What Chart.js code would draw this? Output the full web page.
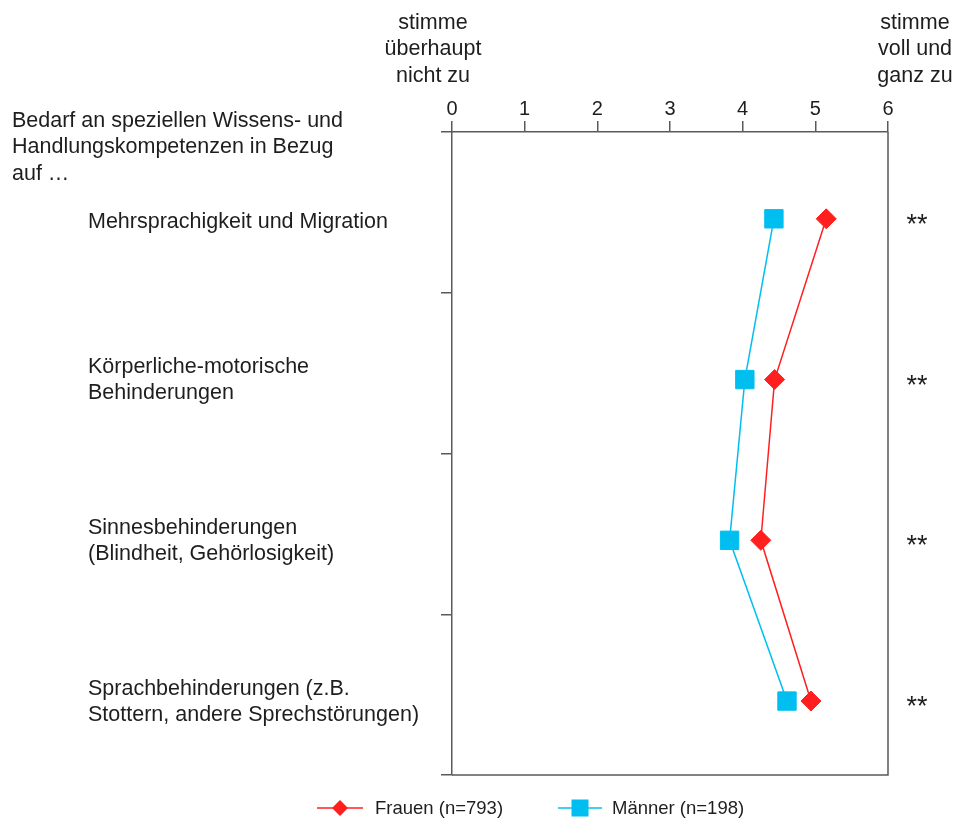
<!DOCTYPE html>
<html>
<head>
<meta charset="utf-8">
<script src="https://cdn.jsdelivr.net/npm/chart.js@4.4.1/dist/chart.umd.min.js"></script>
<style>
  html, body { margin: 0; padding: 0; background: #ffffff; }
  #wrap { position: relative; width: 956px; height: 820px; }
</style>
</head>
<body>
<div id="wrap"><canvas id="c"></canvas></div>
<script>
// ---- data ----
const categories = [
  ['Mehrsprachigkeit und Migration'],
  ['Körperliche-motorische', 'Behinderungen'],
  ['Sinnesbehinderungen', '(Blindheit, Gehörlosigkeit)'],
  ['Sprachbehinderungen (z.B.', 'Stottern, andere Sprechstörungen)']
];
const frauen = [5.15, 4.44, 4.25, 4.94];
const maenner = [4.43, 4.03, 3.82, 4.61];
const significance = ['**', '**', '**', '**'];
const xTickValues = [0, 1, 2, 3, 4, 5, 6];
const headerLines = ['Bedarf an speziellen Wissens- und', 'Handlungskompetenzen in Bezug', 'auf …'];
const leftAnchor = ['stimme', 'überhaupt', 'nicht zu'];
const rightAnchor = ['stimme', 'voll und', 'ganz zu'];
const seriesNames = ['Frauen (n=793)', 'Männer (n=198)'];

// ---- style ----
const FONT = '"Liberation Sans", Arial, sans-serif';
const RED = '#ff1f1f';
const CYAN = '#00bff0';
const AXIS = '#5a5a5a';
const TEXT = '#1e1e1e';
const CAT_OFFSET = 0.54; // position of a category point inside its band

function toPoints(vals) {
  return vals.map((v, i) => ({ x: v, y: i + CAT_OFFSET }));
}

const textPlugin = {
  id: 'texts',
  afterDraw(chart) {
    const ctx = chart.ctx;
    const y = chart.scales.y;
    const ca = chart.chartArea;
    ctx.save();
    ctx.fillStyle = TEXT;
    ctx.font = '21.5px ' + FONT;
    ctx.textBaseline = 'alphabetic';

    // right and bottom frame lines
    ctx.strokeStyle = AXIS;
    ctx.lineWidth = 1.5;
    ctx.beginPath();
    ctx.moveTo(ca.right, ca.top);
    ctx.lineTo(ca.right, ca.bottom);
    ctx.lineTo(ca.left, ca.bottom);
    ctx.stroke();

    // header
    ctx.textAlign = 'left';
    headerLines.forEach((l, k) => ctx.fillText(l, 12, 127 + k * 26.3));

    // anchors
    ctx.textAlign = 'center';
    leftAnchor.forEach((l, k) => ctx.fillText(l, 433, 29 + k * 26.3));
    rightAnchor.forEach((l, k) => ctx.fillText(l, 915, 29 + k * 26.3));

    // category labels and significance
    categories.forEach((lines, i) => {
      const py = y.getPixelForValue(i + CAT_OFFSET);
      ctx.textAlign = 'left';
      ctx.font = '21.5px ' + FONT;
      const n = lines.length;
      lines.forEach((l, k) => {
        ctx.fillText(l, 88, py + (k - (n - 1) / 2) * 26 + (n === 1 ? 9.5 : 6.5));
      });
      ctx.textAlign = 'center';
      ctx.font = '27px ' + FONT;
      ctx.fillText(significance[i], 917, py + 14);
    });

    // legend
    const ly = 808;
    const items = [
      { x0: 317, x1: 363, color: RED, shape: 'diamond', tx: 375, label: seriesNames[0] },
      { x0: 558, x1: 602, color: CYAN, shape: 'square', tx: 612, label: seriesNames[1] }
    ];
    ctx.font = '18.5px ' + FONT;
    ctx.textAlign = 'left';
    ctx.textBaseline = 'middle';
    items.forEach(it => {
      ctx.strokeStyle = it.color;
      ctx.lineWidth = 1.5;
      ctx.beginPath();
      ctx.moveTo(it.x0, ly);
      ctx.lineTo(it.x1, ly);
      ctx.stroke();
      const cx = (it.x0 + it.x1) / 2;
      ctx.fillStyle = it.color;
      ctx.beginPath();
      if (it.shape === 'diamond') {
        const r = 8;
        ctx.moveTo(cx, ly - r);
        ctx.lineTo(cx + r, ly);
        ctx.lineTo(cx, ly + r);
        ctx.lineTo(cx - r, ly);
        ctx.closePath();
      } else {
        ctx.rect(cx - 8.5, ly - 8.5, 17, 17);
      }
      ctx.fill();
      ctx.fillStyle = TEXT;
      ctx.fillText(it.label, it.tx, ly + 1);
    });
    ctx.restore();
  }
};

new Chart(document.getElementById('c'), {
  type: 'line',
  data: {
    datasets: [
      {
        label: seriesNames[0],
        data: toPoints(frauen),
        borderColor: RED,
        backgroundColor: RED,
        borderWidth: 1.5,
        pointStyle: 'rectRot',
        pointRadius: 10,
        pointBorderWidth: 1,
        pointBorderColor: RED,
        pointBackgroundColor: RED,
        tension: 0
      },
      {
        label: seriesNames[1],
        data: toPoints(maenner),
        borderColor: CYAN,
        backgroundColor: CYAN,
        borderWidth: 1.5,
        pointStyle: 'rect',
        pointRadius: 13,
        pointBorderWidth: 1,
        pointBorderColor: CYAN,
        pointBackgroundColor: CYAN,
        tension: 0
      }
    ]
  },
  options: {
    responsive: true,
    maintainAspectRatio: false,
    animation: false,
    events: [],
    layout: { padding: { left: 441, right: 68, top: 97, bottom: 45 } },
    plugins: { legend: { display: false }, tooltip: { enabled: false } },
    scales: {
      x: {
        type: 'linear',
        position: 'top',
        min: 0,
        max: 6,
        afterBuildTicks(s) { s.ticks = xTickValues.map(v => ({ value: v })); },
        ticks: { color: TEXT, font: { family: FONT, size: 20 }, padding: 0 },
        grid: { drawOnChartArea: false, drawTicks: true, tickLength: 11, color: AXIS, lineWidth: 1.5 },
        border: { display: true, color: AXIS, width: 1.5 }
      },
      y: {
        type: 'linear',
        position: 'left',
        reverse: true,
        min: 0,
        max: categories.length,
        afterBuildTicks(s) { s.ticks = categories.concat([[]]).map((c, i) => ({ value: i })); },
        ticks: { display: false },
        grid: { drawOnChartArea: false, drawTicks: true, tickLength: 11, color: AXIS, lineWidth: 1.5 },
        border: { display: true, color: AXIS, width: 1.5 }
      }
    }
  },
  plugins: [textPlugin]
});
</script>
</body>
</html>
